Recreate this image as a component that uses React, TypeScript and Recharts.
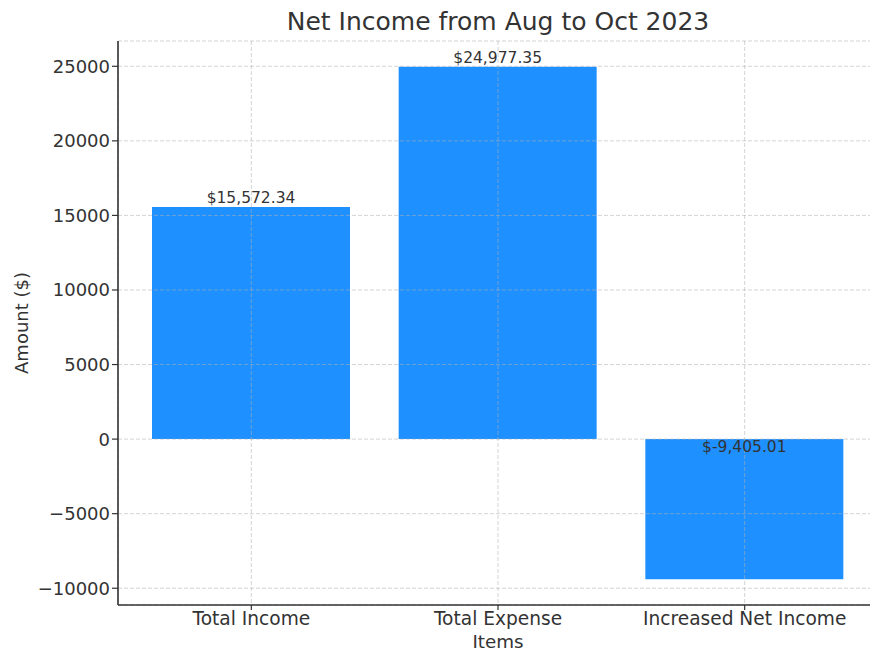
import React from 'react';
import { BarChart, Bar, XAxis, YAxis, CartesianGrid, LabelList } from 'recharts';

const categories = ['Total Income', 'Total Expense', 'Increased Net Income'];
const amounts = [15572.34, 24977.35, -9405.01];
const yTicks = [-10000, -5000, 0, 5000, 10000, 15000, 20000, 25000];
const yDomain = [-11124, 26696];

const data = categories.map((name, i) => ({ name, amount: amounts[i] }));

const FONT = '"DejaVu Sans", sans-serif';
const TEXT = '#333333';

const fmtTick = (v: number) => (v < 0 ? '\u2212' + Math.abs(v) : String(v));
const fmtMoney = (v: number) =>
  '$' + v.toLocaleString('en-US', { minimumFractionDigits: 2, maximumFractionDigits: 2 });

const BarValueLabel = (props: any) => {
  const { x, y, width, height, value } = props;
  const top = Math.min(Number(y), Number(y) + Number(height));
  const cx = Number(x) + Number(width) / 2;
  const ty = value >= 0 ? top - 4 : top + 13;
  return (
    <text x={cx} y={ty} textAnchor="middle" fontSize={15.5} fontFamily={FONT} fill={TEXT}>
      {fmtMoney(value)}
    </text>
  );
};

const YLabel = (props: any) => {
  const vb = props.viewBox || {};
  const cx = vb.x + 21;
  const cy = vb.y + vb.height / 2;
  return (
    <text
      x={cx}
      y={cy}
      transform={`rotate(-90, ${cx}, ${cy})`}
      textAnchor="middle"
      dominantBaseline="central"
      fontSize={18}
      fontFamily={FONT}
      fill={TEXT}
    >
      Amount ($)
    </text>
  );
};

const XLabel = (props: any) => {
  const vb = props.viewBox || {};
  return (
    <text x={vb.x + vb.width / 2} y={vb.y + 43} textAnchor="middle" fontSize={18.3} fontFamily={FONT} fill={TEXT}>
      Items
    </text>
  );
};

export default function App() {
  return (
    <div style={{ position: 'absolute', left: 0, top: 0, width: 870, height: 654, overflow: 'hidden', background: '#fff' }}>
      <BarChart
        width={880}
        height={654}
        data={data}
        margin={{ top: 41, right: 2, bottom: 0, left: 0 }}
      >
        <Bar dataKey="amount" fill="#1E90FF" barSize={198} isAnimationActive={false}>
          <LabelList dataKey="amount" content={<BarValueLabel />} />
        </Bar>
        <CartesianGrid
          stroke="#b0b0b0"
          strokeOpacity={0.55}
          strokeDasharray="4 2"
          strokeWidth={1}
          zIndex={400}
        />
        <XAxis
          dataKey="name"
          height={49}
          padding={{ left: 10, right: 10 }}
          tickSize={5}
          tickMargin={2}
          axisLine={{ stroke: '#333', strokeWidth: 1.6 }}
          tickLine={{ stroke: '#333', strokeWidth: 1.2 }}
          tick={{ fontSize: 18.6, fontFamily: FONT, fill: TEXT }}
          interval={0}
          label={<XLabel />}
        />
        <YAxis
          type="number"
          width={118}
          domain={yDomain}
          ticks={yTicks}
          allowDataOverflow
          tickSize={6}
          tickMargin={2}
          tickFormatter={fmtTick}
          axisLine={{ stroke: '#333', strokeWidth: 1.6 }}
          tickLine={{ stroke: '#333', strokeWidth: 1.2 }}
          tick={{ fontSize: 18, fontFamily: FONT, fill: TEXT }}
          label={<YLabel />}
        />
      </BarChart>
      <svg width={870} height={40} style={{ position: 'absolute', left: 0, top: 0 }}>
        <text x={498} y={30} textAnchor="middle" fontSize={25} fontFamily={FONT} fill={TEXT}>
          Net Income from Aug to Oct 2023
        </text>
      </svg>
    </div>
  );
}
